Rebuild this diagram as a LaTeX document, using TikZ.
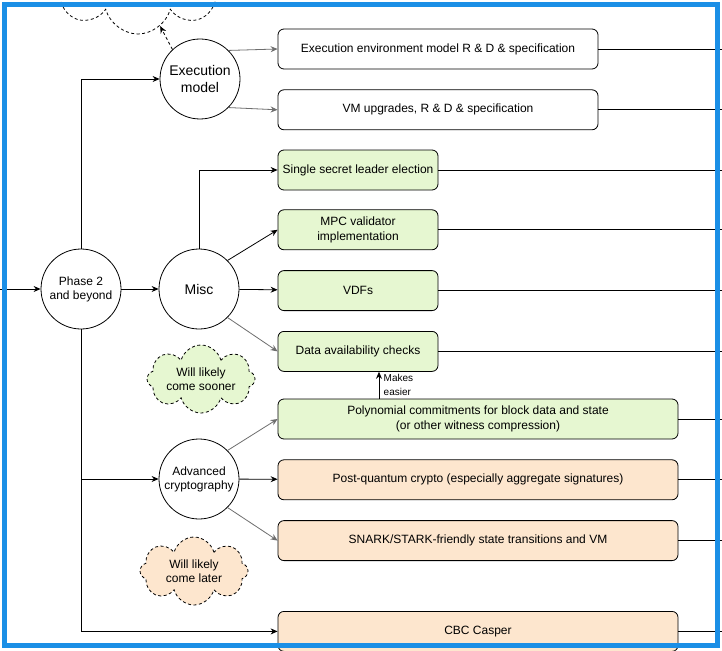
\documentclass[tikz,border=0pt]{standalone}
\usepackage{fontspec}
\setmainfont{Liberation Sans}
\usetikzlibrary{arrows.meta,positioning,shapes.symbols}
\definecolor{frame}{HTML}{1B8FE6}
\definecolor{soon}{HTML}{E6F7D1}
\definecolor{late}{HTML}{FDE6CE}
\definecolor{wire}{HTML}{6E6E6E}

\begin{document}
\begin{tikzpicture}[x=1pt,y=-1pt,line width=0.8pt,>={Stealth[length=7pt,width=6pt]},
  topic/.style={draw,circle,minimum size=80pt,inner sep=0pt,align=center,font=\fontsize{12}{14}\selectfont},
  bigtopic/.style={topic,font=\fontsize{14}{17}\selectfont},
  task/.style={draw,rounded corners=6pt,minimum height=40pt,inner sep=2pt,align=center,font=\fontsize{12}{15}\selectfont},
  soontask/.style={task,fill=soon,minimum width=160pt},
  widetask/.style={task,minimum width=400pt},
  bubble/.style={cloud,cloud puffs=8,cloud ignores aspect,draw,dash pattern=on 3pt off 2.5pt,inner sep=0pt,align=center,font=\fontsize{12}{14}\selectfont}]
  \useasboundingbox (0,0) rectangle (722,650);
  \clip (0,0) rectangle (722,650);
  \fill[white] (0,0) rectangle (722,650);
  \coordinate (inL) at (-5,289); \coordinate (outR) at (730,0); \coordinate (mk) at (379,0);

  % topics
  \node[topic] (phase) at (81,289) {Phase 2\\and beyond};
  \node[bigtopic] (exe) at (200,79) {Execution\\model};
  \node[bigtopic] (misc) at (199,289) {Misc};
  \node[topic] (adv) at (199,479) {Advanced\\cryptography};

  % work items
  \node[task,minimum width=320pt] (envbox) at (438,49) {Execution environment model R \& D \& specification};
  \node[task,minimum width=320pt,below=20pt of envbox] (vmbox) {VM upgrades, R \& D \& specification};
  \node[soontask] (ssle) at (358,170) {Single secret leader election};
  \node[soontask,below=19pt of ssle] (mpc) {MPC validator\\implementation};
  \node[soontask,below=20pt of mpc] (vdf) {VDFs};
  \node[soontask,below=20pt of vdf] (dac) {Data availability checks};
  \node[widetask,fill=soon] (poly) at (478,419) {Polynomial commitments for block data and state\\(or other witness compression)};
  \node[widetask,fill=late,below=20pt of poly] (pq) {Post-quantum crypto (especially aggregate signatures)};
  \node[widetask,fill=late,below=20pt of pq] (snark) {SNARK/STARK-friendly state transitions and VM};
  \node[widetask,fill=late,below=50pt of snark] (cbc) {CBC Casper};

  % clouds
  \node[bubble,fill=white,minimum width=172pt,minimum height=100pt] (idea) at (138,-16) {};
  \node[bubble,fill=soon,minimum width=108pt,minimum height=68pt] (sooner) at (201,379) {Will likely\\come sooner};
  \node[bubble,fill=late,minimum width=108pt,minimum height=68pt] (later) at (194,571) {Will likely\\come later};

  % links
  \draw[->] (inL) -- (phase); \draw[->] (phase) -- (misc);
  \draw[->] (phase.north) |- (exe); \draw[->] (phase.south) |- (adv); \draw[->] (phase.south) |- (cbc);
  \draw[->,dash pattern=on 3pt off 2.5pt] (exe.133) -- (idea);
  \draw[->,wire] (exe.45) -- (envbox.west); \draw[->,wire] (exe.-45) -- (vmbox.west);
  \draw[->] (misc.north) |- (ssle); \draw[->] (misc.45) -- (mpc.west); \draw[->] (misc) -- (vdf); \draw[->,wire] (misc.-45) -- (dac.west);
  \draw[->,wire] (adv.45) -- (poly.west); \draw[->] (adv) -- (pq); \draw[->,wire] (adv.-45) -- (snark.west);
  \draw[->] (poly.north -| mk) -- (dac.south -| mk) node[midway,right=1pt,align=left,font=\fontsize{10}{14}\selectfont] {Makes\\easier};
  \foreach \n in {envbox,vmbox,ssle,mpc,vdf,dac,poly,pq,snark,cbc} \draw (\n.east) -- (\n.east -| outR);

  \draw[frame,line width=5pt] (4.5,4.5) rectangle (717.5,645.5);
\end{tikzpicture}
\end{document}
